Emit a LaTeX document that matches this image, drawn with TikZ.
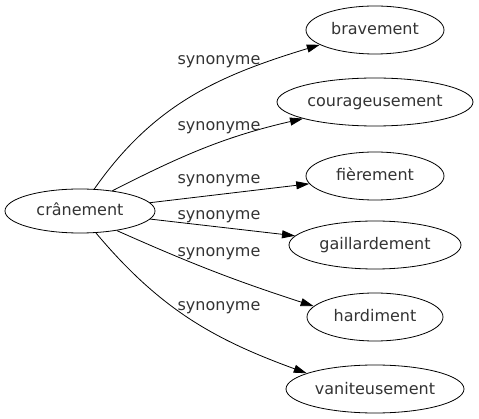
\documentclass[tikz,border=0pt]{standalone}
\usepackage{fontspec}
\setmainfont{DejaVu Sans}
\usetikzlibrary{shapes.geometric,arrows.meta}

\tikzset{
	word/.style={draw, ellipse, line width=0.8pt, inner sep=0pt, minimum height=48pt,
		text height=12pt, text depth=2pt, text=black!80, font=\fontsize{16}{19}\selectfont},
	rel/.style={anchor=base, inner sep=0pt, text=black!80, font=\fontsize{16}{19}\selectfont},
	syn/.style={line width=0.8pt, -{Triangle[length=13pt,width=8pt]}}
}

\begin{document}
\begin{tikzpicture}[x=1pt,y=1pt]
	\useasboundingbox (0,0) rectangle (479,-419);
	\node[word, minimum width=150pt, minimum height=44pt] (cra) at (80,-211) {crânement};
	\node[word, minimum width=138pt] (bra) at (375,-30) {bravement};
	\node[word, minimum width=196pt] (cou) at (375,-102) {courageusement};
	\node[word, minimum width=138pt] (fie) at (375,-176) {fièrement};
	\node[word, minimum width=172pt] (gai) at (375,-245) {gaillardement};
	\node[word, minimum width=136pt] (har) at (375,-317) {hardiment};
	\node[word, minimum width=178pt] (van) at (375,-389) {vaniteusement};
	\draw[syn] (cra.57) to[out=55,in=197] (bra.195);
	\draw[syn] (cra.32) to[out=27,in=193] (cou.193);
	\draw[syn] (cra) -- (fie);
	\draw[syn] (cra) -- (gai);
	\draw[syn] (cra.-28) to[out=-24,in=162] (har.170);
	\draw[syn] (cra.-54) to[out=-50,in=160] (van.167);
	\node[rel] (l1) at (219,-65) {synonyme};
	\node[rel] (l2) at (219,-131) {synonyme};
	\node[rel] (l3) at (219,-184) {synonyme};
	\node[rel] (l4) at (219,-220) {synonyme};
	\node[rel] (l5) at (219,-257) {synonyme};
	\node[rel] (l6) at (219,-311) {synonyme};
\end{tikzpicture}
\end{document}
